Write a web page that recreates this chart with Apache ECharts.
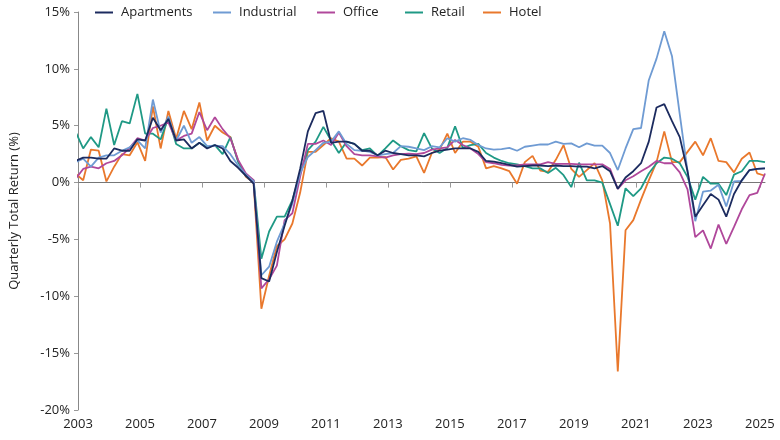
<!DOCTYPE html>
<html>
<head>
<meta charset="utf-8">
<script src="https://cdn.jsdelivr.net/npm/echarts@6/dist/echarts.min.js"></script>
<style>
  html, body { margin: 0; padding: 0; background: #ffffff; }
  #chart { width: 780px; height: 440px; }
</style>
</head>
<body>
<div id="chart"></div>
<script>
// Quarterly total returns (%), first value = 2002 Q4, last = 2025 Q1 (90 quarters)
const firstQuarterYear = 2002;
const firstQuarter = 4;

const seriesNames = ['Apartments', 'Industrial', 'Office', 'Retail', 'Hotel'];

const apartments = [
  1.9, 2.2, 2.2, 2.1, 2.1, 3.0, 2.8, 2.8, 3.8, 3.7,
  5.7, 4.6, 5.6, 3.7, 3.8, 3.0, 3.5, 3.0, 3.3, 3.0,
  1.9, 1.3, 0.6, -0.1, -8.4, -8.7, -6.1, -3.8, -1.6, 1.2,
  4.5, 6.1, 6.3, 3.5, 3.6, 3.6, 3.4, 2.8, 2.8, 2.4,
  2.8, 2.6, 2.5, 2.4, 2.4, 2.3, 2.6, 2.8, 2.9, 3.0,
  3.0, 3.0, 2.7, 1.9, 1.85, 1.7, 1.55, 1.4, 1.45, 1.5,
  1.5, 1.45, 1.5, 1.45, 1.45, 1.4, 1.4, 1.25, 1.45, 1.0,
  -0.55, 0.45, 1.0, 1.7, 3.6, 6.6, 6.9, 5.4, 4.0, 1.0,
  -3.0, -2.0, -1.0, -1.5, -3.0, -1.0, 0.2, 1.1, 1.2, 1.25
];

const industrial = [
  1.8, 2.1, 1.4, 2.2, 2.4, 2.4, 2.8, 3.1, 3.7, 3.0,
  7.3, 4.4, 5.8, 3.7, 5.0, 3.5, 4.0, 3.2, 3.25, 3.2,
  2.5, 1.5, 0.7, 0.1, -8.15, -7.4, -5.2, -3.6, -1.85, 0.8,
  2.25, 2.85, 3.5, 3.6, 4.5, 3.4, 2.85, 2.8, 2.7, 2.4,
  2.5, 2.6, 3.2, 3.15, 3.0, 2.85, 3.2, 3.1, 3.9, 3.6,
  3.9, 3.75, 3.3, 3.0, 2.9, 2.95, 3.05, 2.8, 3.15, 3.25,
  3.35, 3.35, 3.6, 3.4, 3.45, 3.1, 3.45, 3.25, 3.25, 2.6,
  1.1, 3.0, 4.7, 4.8, 9.0, 10.9, 13.3, 11.1, 6.0, 1.0,
  -3.4, -0.8, -0.7, -0.2, -2.1, 0.1, 0.15, 1.1, 1.2, 1.25
];

const office = [
  0.3, 1.2, 1.4, 1.25, 1.7, 1.9, 2.4, 3.05, 3.9, 3.7,
  4.8, 5.0, 5.3, 3.7, 4.1, 4.3, 6.2, 4.6, 5.75, 4.7,
  3.9, 2.0, 0.8, 0.2, -9.3, -8.5, -7.3, -3.3, -2.7, 0.5,
  3.4, 3.4, 3.7, 3.3, 4.4, 3.2, 2.5, 2.4, 2.4, 2.3,
  2.2, 2.4, 2.5, 2.55, 2.5, 2.6, 2.9, 3.0, 3.1, 3.75,
  3.3, 3.0, 2.5, 1.8, 1.7, 1.55, 1.5, 1.5, 1.6, 1.6,
  1.6, 1.8, 1.65, 1.65, 1.65, 1.6, 1.6, 1.6, 1.6, 1.2,
  -0.55, 0.2, 0.55, 1.0, 1.4, 1.9, 1.7, 1.7, 0.9, -0.6,
  -4.8, -4.2, -5.8, -3.7, -5.4, -3.9, -2.35, -1.1, -0.9, 0.8
];

const retail = [
  4.5, 3.0, 4.0, 3.1, 6.5, 3.3, 5.4, 5.2, 7.8, 4.3,
  4.3, 3.8, 5.7, 3.4, 3.0, 3.0, 3.5, 3.1, 3.3, 2.5,
  4.0, 1.8, 0.6, 0.2, -6.7, -4.3, -3.0, -3.0, -1.55, 0.8,
  2.85, 3.6, 4.9, 3.7, 2.6, 3.6, 3.4, 2.85, 3.0, 2.35,
  3.0, 3.7, 3.2, 2.85, 2.75, 4.35, 3.0, 2.6, 3.05, 4.95,
  3.05, 3.3, 3.4, 2.6, 2.2, 1.9, 1.7, 1.6, 1.45, 1.25,
  1.25, 0.85, 1.3, 0.65, -0.4, 1.75, 0.2, 0.2, 0.0, -1.9,
  -3.8, -0.5, -1.2, -0.5, 0.8, 1.7, 2.2, 2.1, 1.7, 0.5,
  -1.5, 0.5, -0.1, -0.1, -1.1, 0.7, 1.0, 1.9, 1.9, 1.8
];

const hotel = [
  0.8, 0.2, 2.9, 2.8, 0.1, 1.4, 2.5, 2.4, 3.55, 1.9,
  6.7, 3.0, 6.3, 3.85, 6.3, 4.7, 7.05, 3.7, 5.0, 4.4,
  4.0, 1.9, 0.5, 0.0, -11.1, -8.2, -5.6, -5.0, -3.6, -0.9,
  2.7, 2.7, 3.3, 3.9, 3.6, 2.1, 2.1, 1.5, 2.2, 2.2,
  2.25, 1.15, 2.0, 2.1, 2.3, 0.85, 2.6, 2.9, 4.3, 2.6,
  3.6, 3.6, 3.15, 1.25, 1.45, 1.25, 1.0, -0.1, 1.8, 2.35,
  1.05, 0.95, 2.0, 3.3, 1.2, 0.5, 1.1, 1.7, 0.2, -3.6,
  -16.6, -4.2, -3.3, -1.5, 0.2, 1.8, 4.5, 1.8, 1.8, 2.7,
  3.6, 2.4, 3.9, 1.9, 1.8, 0.9, 2.1, 2.65, 0.8, 0.6
];

const yTickValues = [-20, -15, -10, -5, 0, 5, 10, 15];
const xTickYears = [2003, 2005, 2007, 2009, 2011, 2013, 2015, 2017, 2019, 2021, 2023, 2025];

const colors = ['#1c2b5f', '#6f9bd3', '#b0489b', '#1f9985', '#e9782c'];
const allValues = [apartments, industrial, office, retail, hotel];

// each quarter plotted at the last month of the quarter (e.g. Q4 2002 -> Dec 2002)
function quarterPosition(k) {
  const q0 = firstQuarterYear * 4 + (firstQuarter - 1) + k;
  const year = Math.floor(q0 / 4);
  const q = q0 % 4;
  return year + (q * 3 + 2) / 12;
}

const xMin = 2003;
const xMax = quarterPosition(apartments.length - 1);

const series = seriesNames.map((name, s) => ({
  name: name,
  type: 'line',
  data: allValues[s].map((v, k) => [quarterPosition(k), v]),
  showSymbol: false,
  symbol: 'none',
  xAxisIndex: 0,
  lineStyle: { width: 1.8, color: colors[s] },
  itemStyle: { color: colors[s] },
  z: 10 - s,
  clip: true,
  animation: false
}));

const fontFamily = '"Open Sans", "Noto Sans", Arial, sans-serif';
const legendLefts = [95, 213, 317, 405, 483];
const legends = seriesNames.map((name, s) => ({
  data: [name],
  left: legendLefts[s],
  top: 6,
  itemWidth: 18,
  itemHeight: 2,
  icon: 'rect',
  padding: 0,
  textStyle: { fontSize: 13, color: '#222', fontFamily: fontFamily, padding: [0, 0, 0, 3] }
}));

const chart = echarts.init(document.getElementById('chart'), null, { renderer: 'canvas' });

chart.setOption({
  animation: false,
  color: colors,
  textStyle: { fontFamily: fontFamily },
  legend: legends,
  grid: { left: 74, right: 15, top: 12, bottom: 30, containLabel: false },
  xAxis: [
    {
      type: 'value',
      min: xMin,
      max: xMax,
      position: 'bottom',
      axisLine: { show: false, onZero: false },
      axisTick: { show: false },
      splitLine: { show: false },
      axisLabel: {
        customValues: xTickYears,
        formatter: (v) => String(Math.round(v)),
        fontSize: 13,
        color: '#222',
        margin: 8,
        fontFamily: fontFamily
      }
    },
    {
      type: 'value',
      min: xMin,
      max: xMax,
      position: 'bottom',
      axisLine: { show: true, onZero: true, lineStyle: { color: '#777', width: 1 } },
      axisTick: { show: true, customValues: xTickYears, length: 5, lineStyle: { color: '#999', width: 1 } },
      axisLabel: { show: false },
      splitLine: { show: false }
    }
  ],
  yAxis: {
    type: 'value',
    min: -20,
    max: 15,
    interval: 5,
    name: 'Quarterly Total Return (%)',
    nameLocation: 'middle',
    nameGap: 57,
    nameTextStyle: { fontSize: 13, color: '#222', fontFamily: fontFamily },
    axisLine: { show: true, lineStyle: { color: '#888', width: 1 } },
    axisTick: { show: true, length: 4, lineStyle: { color: '#999' } },
    splitLine: { show: false },
    axisLabel: {
      formatter: (v) => (yTickValues.indexOf(v) >= 0 ? v + '%' : ''),
      fontSize: 13,
      color: '#222',
      margin: 8,
      fontFamily: fontFamily
    }
  },
  series: series
});
</script>
</body>
</html>
